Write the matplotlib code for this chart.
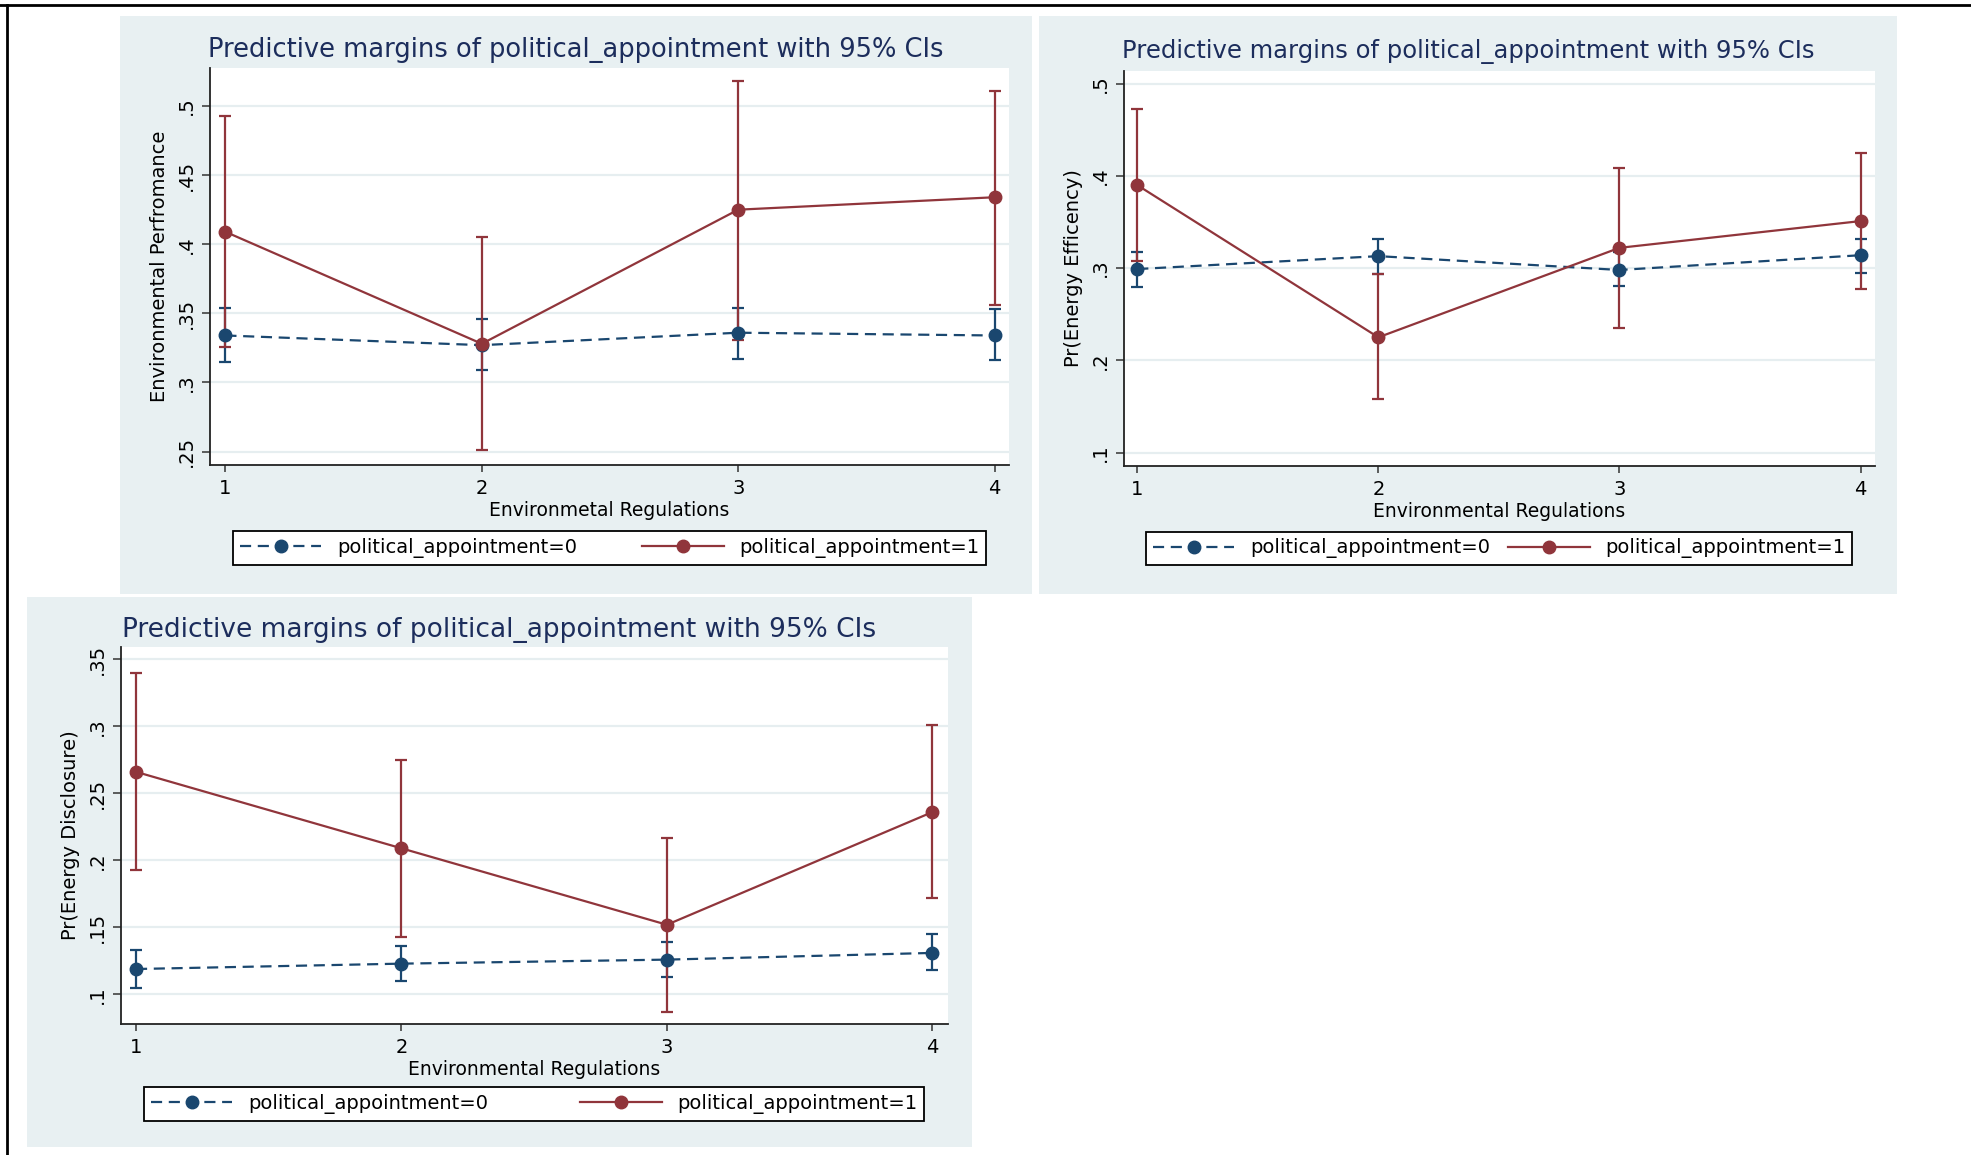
import numpy as np
import matplotlib
matplotlib.use("Agg")
import matplotlib.pyplot as plt
from matplotlib.patches import Rectangle
from matplotlib.lines import Line2D

# --------------------------------------------------
# Predictive margins of political_appointment (95% CIs)
# three outcome panels, Stata s2color look
# --------------------------------------------------

levels = [1, 2, 3, 4]
legend_labels = ["political_appointment=0", "political_appointment=1"]
title_text = "Predictive margins of political_appointment with 95% CIs"

# Environmental performance
ep_m0 = [0.334, 0.327, 0.336, 0.334]
ep_lo0 = [0.315, 0.309, 0.317, 0.316]
ep_hi0 = [0.354, 0.346, 0.354, 0.353]
ep_m1 = [0.409, 0.328, 0.425, 0.434]
ep_lo1 = [0.326, 0.251, 0.331, 0.356]
ep_hi1 = [0.493, 0.405, 0.518, 0.511]

# Energy efficiency
ee_m0 = [0.299, 0.313, 0.298, 0.314]
ee_lo0 = [0.280, 0.294, 0.281, 0.295]
ee_hi0 = [0.318, 0.332, 0.317, 0.332]
ee_m1 = [0.390, 0.225, 0.322, 0.351]
ee_lo1 = [0.308, 0.158, 0.235, 0.277]
ee_hi1 = [0.473, 0.294, 0.409, 0.425]

# Energy disclosure
ed_m0 = [0.119, 0.123, 0.126, 0.131]
ed_lo0 = [0.105, 0.110, 0.113, 0.118]
ed_hi0 = [0.133, 0.136, 0.139, 0.145]
ed_m1 = [0.266, 0.209, 0.152, 0.236]
ed_lo1 = [0.193, 0.143, 0.087, 0.172]
ed_hi1 = [0.340, 0.275, 0.217, 0.301]

ylabels = ["Environmental Perfromance", "Pr(Energy Efficency)", "Pr(Energy Disclosure)"]
xlabels = ["Environmetal Regulations", "Environmental Regulations", "Environmental Regulations"]
yticks = [np.arange(0.25, 0.501, 0.05), np.arange(0.1, 0.501, 0.1), np.arange(0.1, 0.351, 0.05)]

W, H = 1971, 1155
BG = "#e8f0f2"
NAVY = "#1a476f"
MAROON = "#90353b"
TITLE_C = "#1c2d5c"
GRID_C = "#e6eef0"

plt.rcParams['font.family'] = ['DejaVu Sans']


def frac_rect(x0, y0, x1, y1):
    return [x0 / W, 1 - y1 / H, (x1 - x0) / W, (y1 - y0) / H]


fig = plt.figure(figsize=(W / 100, H / 100), dpi=100)
fig.patch.set_facecolor("white")

# panel layout in pixels: background, plot area, limits, title y, legend box
panels = [
    dict(bg=(120, 16, 1032, 594), plot=(210, 68, 1009, 465), xlim=(0.94, 4.056), ylim=(0.2403, 0.5275),
         title_y=50, leg=(233, 530, 986, 566), tsize=18.5,
         data=(ep_m0, ep_lo0, ep_hi0, ep_m1, ep_lo1, ep_hi1)),
    dict(bg=(1039, 16, 1897, 594), plot=(1124, 71, 1875, 466), xlim=(0.945, 4.06), ylim=(0.0855, 0.5137),
         title_y=52, leg=(1146, 531, 1852, 566), tsize=17.5,
         data=(ee_m0, ee_lo0, ee_hi0, ee_m1, ee_lo1, ee_hi1)),
    dict(bg=(27, 597, 972, 1147), plot=(121, 647, 948, 1024), xlim=(0.9435, 4.059), ylim=(0.078, 0.3591),
         title_y=630, leg=(144, 1087, 924, 1121), tsize=19,
         data=(ed_m0, ed_lo0, ed_hi0, ed_m1, ed_lo1, ed_hi1)),
]

for i, p in enumerate(panels):
    bx0, by0, bx1, by1 = p["bg"]
    fig.patches.append(Rectangle((bx0 / W, 1 - by1 / H), (bx1 - bx0) / W, (by1 - by0) / H,
                                 transform=fig.transFigure, facecolor=BG, edgecolor="none", zorder=-10))

    ax = fig.add_axes(frac_rect(*p["plot"]))
    ax.set_zorder(2)
    ax.set_facecolor("white")
    m0, lo0, hi0, m1, lo1, hi1 = p["data"]

    for m, lo, hi, col in [(m0, lo0, hi0, NAVY), (m1, lo1, hi1, MAROON)]:
        m = np.array(m)
        ax.errorbar(levels, m, yerr=[m - np.array(lo), np.array(hi) - m], fmt="none",
                    ecolor=col, elinewidth=1.6, capsize=4.5, capthick=1.6, zorder=3)
    ax.plot(levels, m0, color=NAVY, lw=1.6, ls=(0, (5, 3)), marker="o", ms=9, zorder=4,
            label=legend_labels[0])
    ax.plot(levels, m1, color=MAROON, lw=1.6, marker="o", ms=9, zorder=5, label=legend_labels[1])

    ax.set_xlim(*p["xlim"])
    ax.set_ylim(*p["ylim"])
    ax.set_xticks(levels)
    ax.set_yticks(yticks[i])
    ax.set_yticklabels([f"{v:.2f}".rstrip("0").lstrip("0") for v in yticks[i]],
                       rotation=90, va="center")
    ax.grid(axis="y", color=GRID_C, lw=1.6)
    ax.set_axisbelow(True)
    for s in ["top", "right"]:
        ax.spines[s].set_visible(False)
    for s in ["left", "bottom"]:
        ax.spines[s].set_color("#222222")
        ax.spines[s].set_linewidth(1.3)
    ax.tick_params(axis="x", length=5, width=1.1, color="#333333", labelsize=14, pad=5)
    ax.tick_params(axis="y", length=6, width=1.1, color="#333333", labelsize=14, pad=4)
    ax.set_ylabel(ylabels[i], fontsize=14, labelpad=6)
    ax.set_xlabel(xlabels[i], fontsize=13.5, labelpad=2)

    fig.text((bx0 + bx1) / 2 / W, 1 - p["title_y"] / H, title_text, color=TITLE_C,
             fontsize=p["tsize"], ha="center", va="center")

    lx0, ly0, lx1, ly1 = p["leg"]
    leg = ax.legend(loc="center", bbox_to_anchor=frac_rect(lx0, ly0, lx1, ly1),
                    bbox_transform=fig.transFigure, ncol=2, mode="expand", frameon=True,
                    fancybox=False, edgecolor="black", framealpha=1, fontsize=14,
                    handlelength=4.2, borderpad=0.35, handletextpad=0.8, borderaxespad=0)
    leg.get_frame().set_linewidth(1.3)

# outer border lines
fig.add_artist(Line2D([0, 1], [1 - 5 / H, 1 - 5 / H], transform=fig.transFigure, color="black", lw=2))
fig.add_artist(Line2D([7 / W, 7 / W], [0, 1 - 5 / H], transform=fig.transFigure, color="black", lw=2))

fig.savefig("out.png", dpi=100)
